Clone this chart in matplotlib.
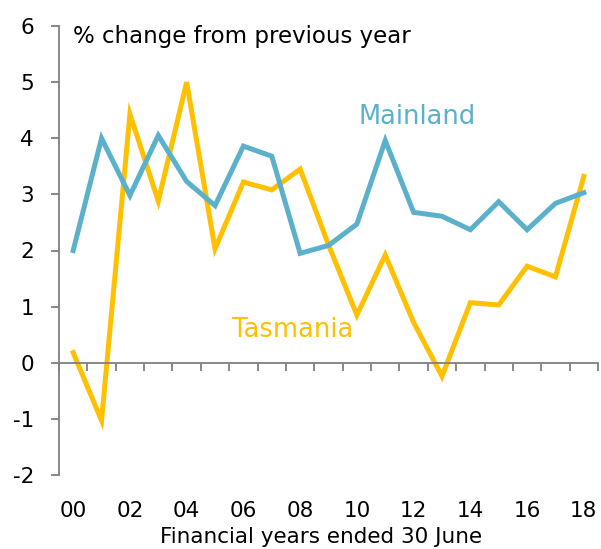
import matplotlib
matplotlib.use("Agg")
import matplotlib.pyplot as plt
import numpy as np

years = ["00", "01", "02", "03", "04", "05", "06", "07", "08", "09",
         "10", "11", "12", "13", "14", "15", "16", "17", "18"]
mainland = [2.0, 4.0, 2.98, 4.05, 3.23, 2.8, 3.86, 3.68, 1.95, 2.09,
            2.47, 3.96, 2.68, 2.61, 2.37, 2.87, 2.37, 2.84, 3.03]
tasmania = [0.18, -1.03, 4.43, 2.88, 5.0, 2.03, 3.22, 3.08, 3.45, 2.1,
            0.85, 1.92, 0.72, -0.24, 1.07, 1.03, 1.72, 1.53, 3.32]
yticks = [-2, -1, 0, 1, 2, 3, 4, 5, 6]

BLUE = "#5BB1CB"
YELLOW = "#FFC000"
GREY = "#7F7F7F"

plt.rcParams['font.family'] = ['DejaVu Sans']

fig = plt.figure(figsize=(6.01, 5.49), dpi=100)
ax = fig.add_axes([59/601, 1-475/549, (598-59)/601, (475-26)/549])

x = np.arange(len(years))
ax.plot(x, tasmania, color=YELLOW, lw=3.6, solid_joinstyle='miter')
ax.plot(x, mainland, color=BLUE, lw=3.6, solid_joinstyle='miter')

ax.set_xlim(-0.5, len(years) - 0.5)
ax.set_ylim(-2, 6)

for s in ['top', 'right']:
    ax.spines[s].set_visible(False)
ax.spines['bottom'].set_position(('data', 0))
for s in ['left', 'bottom']:
    ax.spines[s].set_color(GREY)
    ax.spines[s].set_linewidth(1.3)

ax.set_yticks(yticks)
ax.set_yticklabels([str(v) for v in yticks])
ax.tick_params(axis='y', direction='out', length=6, width=1.3, color=GREY,
               pad=12, labelsize=15.5, labelcolor='black')

ax.set_xticks(np.arange(-0.5, len(years)))
ax.set_xticklabels([])
ax.tick_params(axis='x', direction='out', length=6, width=1.3, color=GREY)

sec = ax.secondary_xaxis(0)
sec.set_xticks(x[::2])
sec.set_xticklabels(years[::2])
sec.tick_params(length=0, pad=19, labelsize=15.5, labelcolor='black')
sec.spines['bottom'].set_visible(False)

fig.text(321/601, 1-537/549, "Financial years ended 30 June", ha='center',
         va='center', fontsize=15.5, color='black')

fig.text(73/601, 1-37/549, "% change from previous year", ha='left',
         va='center', fontsize=16.5, color='black')

ax.text(12.13, 4.375, "Mainland", color=BLUE, fontsize=18.5, ha='center', va='center')
ax.text(7.72, 0.59, "Tasmania", color=YELLOW, fontsize=18.5, ha='center', va='center')

fig.savefig("out.png", dpi=100)
